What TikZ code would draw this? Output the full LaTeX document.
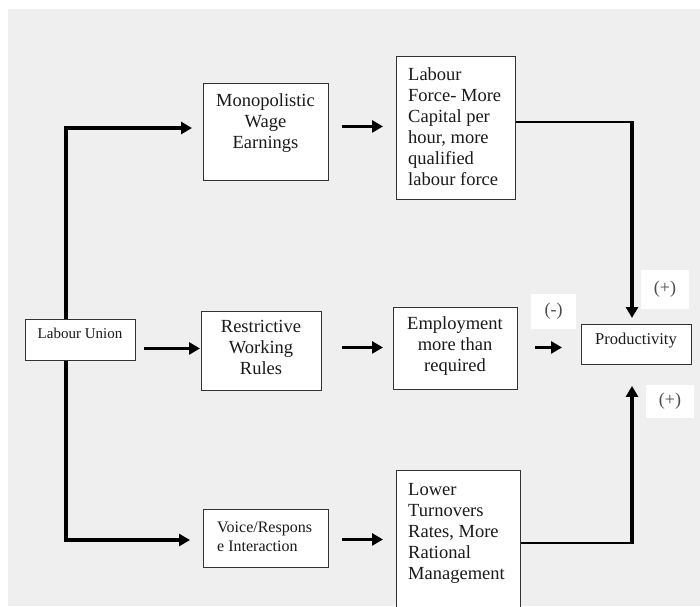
\documentclass[tikz,border=0pt]{standalone}
\usepackage{fontspec}
\setmainfont{Liberation Serif}
\usetikzlibrary{arrows.meta}
\definecolor{bggray}{HTML}{EFEFEF}
\definecolor{ink}{HTML}{1A1A1A}
\begin{document}
\begin{tikzpicture}[x=1pt,y=-1pt,
  box/.style={draw=black!80, line width=0.9pt, fill=white, inner sep=0pt, anchor=north west},
  txt/.style={inner sep=0pt, text=ink, font=\fontsize{18.5}{21}\selectfont},
  smalltxt/.style={inner sep=0pt, text=ink, font=\fontsize{15}{18}\selectfont},
  sign/.style={fill=white, inner sep=0pt, text=black!70, font=\fontsize{18}{21}\selectfont},
  arr/.style={draw=black, line width=3.2pt, -{Triangle[length=11pt,width=12pt]}},
  link/.style={draw=black, line width=2.2pt}]
\useasboundingbox (0,0) rectangle (700,606);
\clip (0,0) rectangle (700,606);
\fill[bggray] (8,9) rectangle (700,606);

% boxes
\node[box, minimum width=110pt, minimum height=41pt] (lu) at (25,319) {};
\node[box, minimum width=125pt, minimum height=97pt] (mono) at (203,83) {};
\node[box, minimum width=119pt, minimum height=143pt] (lf) at (396,56) {};
\node[box, minimum width=120pt, minimum height=79pt] (restr) at (201,311) {};
\node[box, minimum width=124pt, minimum height=82pt] (emp) at (393,307) {};
\node[box, minimum width=125pt, minimum height=58pt] (voice) at (203,509) {};
\node[box, minimum width=124pt, minimum height=150pt] (lower) at (396,470) {};
\node[box, minimum width=110pt, minimum height=40pt] (prod) at (581,324) {};

% texts
\node[smalltxt, anchor=north] (lut) at (80,328) {Labour Union};
\node[txt, anchor=north, align=center] (monot) at (265.5,93) {Monopolistic\\Wage\\Earnings};
\node[txt, anchor=north west, align=left] (lft) at (408,67) {Labour\\Force- More\\Capital per\\hour, more\\qualified\\labour force};
\node[txt, anchor=north, align=center] (restrt) at (261,320) {Restrictive\\Working\\Rules};
\node[txt, anchor=north, align=center] (empt) at (455,316) {Employment\\more than\\required};
\node[inner sep=0pt, text=ink, font=\fontsize{16}{18.5}\selectfont, anchor=north west, align=left] (voicet) at (217,522) {Voice/Respons\\e Interaction};
\node[txt, anchor=north west, align=left] (lowert) at (408,483) {Lower\\Turnovers\\Rates, More\\Rational\\Management};
\node[inner sep=0pt, text=ink, font=\fontsize{16.5}{19}\selectfont, anchor=north] (prodt) at (636,333) {Productivity};

% sign labels
\node[sign, minimum width=45pt, minimum height=35pt] (minus) at (553.5,311.5) {(-)};
\node[sign, minimum width=48pt, minimum height=39pt] (plus1) at (665,289.5) {(+)};
\node[sign, minimum width=48pt, minimum height=33pt] (plus2) at (670,401.5) {(+)};

% connectors from Labour Union
\coordinate (tl) at (66,128);
\coordinate (bl) at (66,540);
\draw[arr, shorten >=11pt] (lu.north -| tl) -- (tl) -- (tl -| mono.west);
\draw[draw=black, line width=4pt] (tl) -- ++(58,0);
\draw[arr, shorten >=13pt] (lu.south -| bl) -- (bl) -- (bl -| voice.west);
\draw[arr, shorten <=8pt, shorten >=1pt] ([yshift=2.5pt]restr.west -| lu.east) -- ([yshift=2.5pt]restr.west);

% middle arrows
\draw[arr, shorten <=13pt, shorten >=13pt] ([yshift=5.5pt]mono.east) -- ([yshift=5.5pt]mono.east -| lf.west);
\draw[arr, shorten <=20pt, shorten >=10pt] ([yshift=3.5pt]restr.east) -- ([yshift=3.5pt]restr.east -| emp.west);
\draw[arr, shorten <=13pt, shorten >=13pt] ([yshift=-1pt]voice.east) -- ([yshift=-1pt]voice.east -| lower.west);
\draw[arr, shorten <=17pt, shorten >=19pt] ([yshift=1pt]emp.east) -- ([yshift=1pt]emp.east -| prod.west);

% to productivity
\coordinate (c1) at (632,122);
\coordinate (c2) at (632,543);
\draw[link] (lf.east |- c1) -- (c1);
\draw[arr, line width=3.8pt, shorten >=6pt] ([yshift=1pt]c1) -- (c1 |- prod.north);
\draw[link] (lower.east |- c2) -- (c2);
\draw[arr, line width=3.8pt, shorten >=21pt] ([yshift=-1pt]c2) -- (c2 |- prod.south);
\end{tikzpicture}
\end{document}
